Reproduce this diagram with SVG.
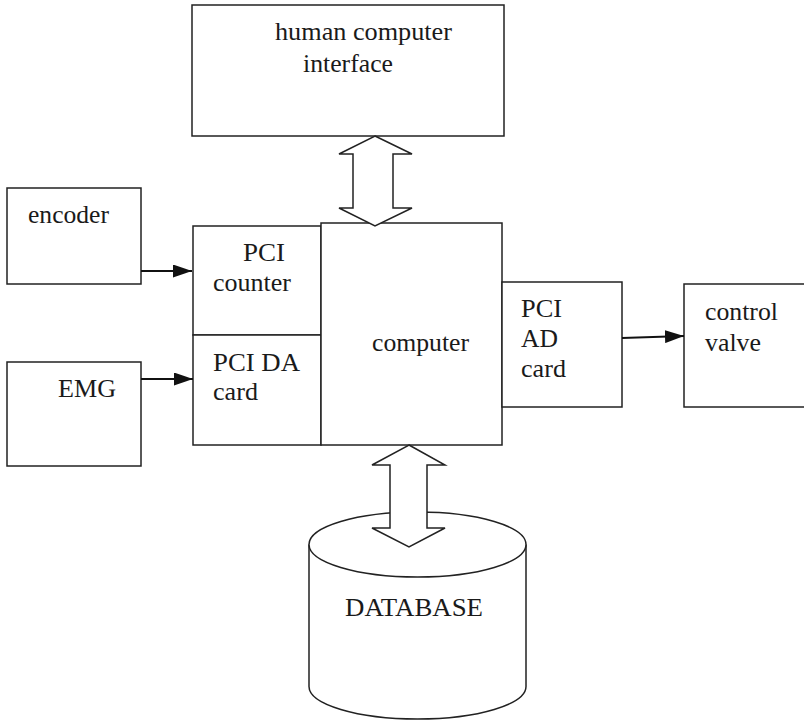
<svg xmlns="http://www.w3.org/2000/svg" width="804" height="722" viewBox="0 0 804 722">
<style>
.box{fill:#fff;stroke:#222;stroke-width:1.5}
.t{font-size:25px;fill:#1a1a1a}
.ln{stroke:#111;stroke-width:1.8;fill:none}
.big{fill:#fff;stroke:#222;stroke-width:1.5;stroke-linejoin:miter}
</style>
<defs>
<marker id="ah" viewBox="0 0 19 13" refX="19" refY="6.5" markerWidth="19" markerHeight="13" markerUnits="userSpaceOnUse" orient="auto">
<path d="M0,0 L19,6.5 L0,13 Z" fill="#111"/>
</marker>
</defs>
<rect width="804" height="722" fill="#fff"/>

<g font-family="Liberation Serif, Times New Roman, serif">
<g id="hci">
<rect class="box" x="192" y="5" width="312" height="131"/>
<text class="t" x="275" y="40" textLength="177" lengthAdjust="spacingAndGlyphs">human computer</text>
<text class="t" x="303" y="72" textLength="90" lengthAdjust="spacingAndGlyphs">interface</text>
</g>

<g id="encoder">
<rect class="box" x="7" y="188" width="134" height="96"/>
<text class="t" x="28" y="223" textLength="81" lengthAdjust="spacingAndGlyphs">encoder</text>
</g>

<g id="emg">
<rect class="box" x="7" y="362" width="134" height="104"/>
<text class="t" x="58" y="397" textLength="58" lengthAdjust="spacingAndGlyphs">EMG</text>
</g>

<g id="pci-counter">
<rect class="box" x="193" y="226" width="128" height="109"/>
<text class="t" x="243" y="261" textLength="42" lengthAdjust="spacingAndGlyphs">PCI</text>
<text class="t" x="213" y="291" textLength="78" lengthAdjust="spacingAndGlyphs">counter</text>
</g>

<g id="pci-da">
<rect class="box" x="193" y="335" width="128" height="110"/>
<text class="t" x="213" y="371" textLength="87" lengthAdjust="spacingAndGlyphs">PCI DA</text>
<text class="t" x="213" y="400" textLength="45" lengthAdjust="spacingAndGlyphs">card</text>
</g>

<g id="computer">
<rect class="box" x="321" y="223" width="181" height="222"/>
<text class="t" x="372" y="351" textLength="97" lengthAdjust="spacingAndGlyphs">computer</text>
</g>

<g id="pci-ad">
<rect class="box" x="502" y="282" width="120" height="125"/>
<text class="t" x="521" y="317" textLength="41" lengthAdjust="spacingAndGlyphs">PCI</text>
<text class="t" x="521" y="347" textLength="37" lengthAdjust="spacingAndGlyphs">AD</text>
<text class="t" x="521" y="377" textLength="45" lengthAdjust="spacingAndGlyphs">card</text>
</g>

<g id="control-valve">
<rect class="box" x="684" y="284" width="130" height="123"/>
<text class="t" x="705" y="320" textLength="73" lengthAdjust="spacingAndGlyphs">control</text>
<text class="t" x="705" y="351" textLength="56" lengthAdjust="spacingAndGlyphs">valve</text>
</g>

<g id="database">
<path class="box" d="M309,544.5 L309,686.5 A108.5,32.5 0 0 0 526,686.5 L526,544.5"/>
<ellipse class="box" cx="417.5" cy="544.5" rx="108.5" ry="32.5"/>
<text class="t" x="345" y="616" textLength="138" lengthAdjust="spacingAndGlyphs">DATABASE</text>
</g>
</g>

<g id="connectors">
<line class="ln" x1="141" y1="271" x2="192" y2="271" marker-end="url(#ah)"/>
<line class="ln" x1="141" y1="379" x2="193" y2="379" marker-end="url(#ah)"/>
<line class="ln" x1="622" y1="338" x2="684" y2="336" marker-end="url(#ah)"/>
<path class="big" d="M375,136 L412,154 L393,154 L393,208 L412,208 L375,226 L339,208 L353,208 L353,154 L339,154 Z"/>
<path class="big" d="M409,445 L445,465 L427,465 L427,528 L445,528 L409,547 L372,528 L390,528 L390,465 L372,465 Z"/>
</g>
</svg>
